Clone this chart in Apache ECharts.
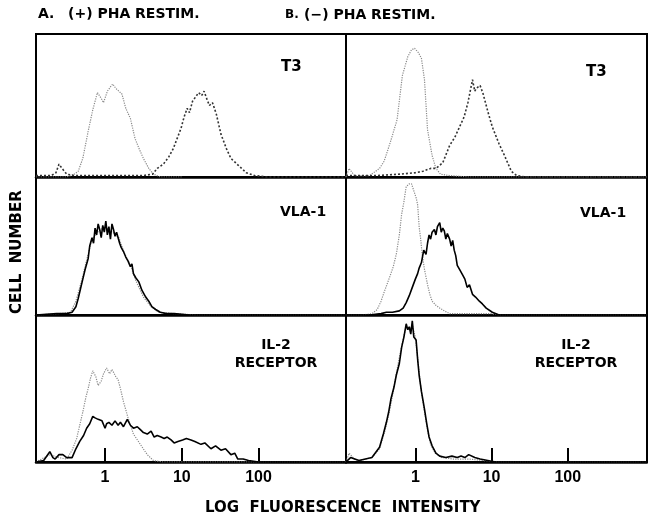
<!DOCTYPE html>
<html><head><meta charset="utf-8">
<script src="https://cdn.jsdelivr.net/npm/echarts@6/dist/echarts.min.js"></script>
<style>html,body{margin:0;padding:0;background:#fff}#c{width:648px;height:527px}</style>
</head><body><div id="c"></div>
<script>
// x values are log10(fluorescence intensity); y values are relative cell number (% of panel height)
const tickValues = [0, 1, 2];
const tickLabels = ['1', '10', '100'];
const panelLabels = ['T3', 'VLA-1', 'IL-2\nRECEPTOR'];
const columnTitles = ['(+) PHA RESTIM.', '(\u2212) PHA RESTIM.'];

// A. (+) PHA, T3
const aT3CtrlX = [-0.9,-0.5,-0.4,-0.35,-0.29,-0.22,-0.16,-0.1,-0.05,-0.02,0.03,0.07,0.1,0.14,0.18,0.22,0.27,0.33,0.39,0.45,0.5,0.57,0.63,0.72,0.85,1.0];
const aT3CtrlY = [0,0,2,4,13,32,47,59,55,52,60,63,65,62,60,58,48,41,27,19,13,6,2,0,0,0];
const aT3PosX = [-0.9,-0.7,-0.64,-0.6,-0.56,-0.5,-0.4,0.0,0.5,0.62,0.68,0.76,0.83,0.89,0.94,0.99,1.03,1.07,1.1,1.14,1.18,1.22,1.26,1.29,1.33,1.36,1.4,1.45,1.51,1.58,1.64,1.7,1.74,1.84,1.95,2.1,3.14];
const aT3PosY = [1,1,3,9,6,2,1,1,1,2,6,9,14,20,27,34,42,48,45,53,56,59,57,60,54,50,52,44,30,20,13,10,8,3,1,0,0];
// B. (-) PHA, T3
const bT3CtrlX = [-0.91,-0.87,-0.8,-0.6,-0.47,-0.41,-0.33,-0.24,-0.17,-0.1,-0.05,-0.01,0.04,0.08,0.12,0.16,0.22,0.27,0.33,0.45,0.7,3.04];
const bT3CtrlY = [0,6,1,1,6,11,24,40,71,84,89,90,87,83,68,33,15,6,2,1,0,0];
const bT3PosX = [-0.91,-0.5,-0.2,0.0,0.1,0.2,0.27,0.36,0.45,0.52,0.58,0.64,0.69,0.72,0.75,0.78,0.8,0.85,0.89,0.95,1.01,1.1,1.17,1.26,1.33,1.45,3.04];
const bT3PosY = [1,1,2,3,4,6,6,10,22,28,35,42,52,60,68,60,62,64,58,46,35,23,15,4,1,0,0];
// A. VLA-1
const aVlaCtrlX = [-0.9,-0.6,-0.45,-0.38,-0.3,-0.23,-0.17,-0.1,0.0,0.1,0.18,0.25,0.33,0.4,0.5,0.6,0.7,0.9,1.2,3.14];
const aVlaCtrlY = [0,1,2,10,26,42,55,60,64,60,56,45,36,25,13,6,2,1,0,0];
const aVlaPosX = [-0.9,-0.63,-0.5,-0.43,-0.38,-0.35,-0.32,-0.29,-0.26,-0.22,-0.2,-0.17,-0.15,-0.13,-0.11,-0.09,-0.07,-0.05,-0.03,-0.01,0.01,0.03,0.05,0.07,0.09,0.11,0.13,0.15,0.17,0.19,0.21,0.24,0.27,0.3,0.33,0.35,0.37,0.4,0.44,0.48,0.53,0.57,0.61,0.66,0.72,0.8,0.9,1.1,1.3,3.14];
const aVlaPosY = [0,1,1,2,6,12,19,26,33,41,50,56,52,63,58,66,62,56,65,60,68,58,64,55,66,62,57,60,61,52,49,46,42,39,35,37,30,27,24,18,13,10,6,4,2,1,1,0,0,0];
// B. VLA-1
const bVlaCtrlX = [-0.91,-0.7,-0.57,-0.5,-0.45,-0.4,-0.34,-0.29,-0.25,-0.21,-0.18,-0.15,-0.12,-0.08,-0.05,-0.02,0.01,0.03,0.05,0.07,0.09,0.12,0.16,0.19,0.22,0.27,0.32,0.38,0.45,0.6,0.8,1.0,1.1,3.04];
const bVlaCtrlY = [0,0,1,4,10,18,27,35,44,58,73,82,93,95,95,90,85,80,64,55,44,33,22,15,10,7,5,3,1,1,1,1,0,0];
const bVlaPosX = [-0.91,-0.6,-0.45,-0.38,-0.3,-0.21,-0.16,-0.12,-0.08,-0.04,0.0,0.03,0.05,0.08,0.11,0.14,0.16,0.18,0.2,0.22,0.25,0.27,0.29,0.32,0.34,0.36,0.38,0.4,0.42,0.45,0.47,0.49,0.51,0.53,0.55,0.58,0.62,0.65,0.68,0.71,0.75,0.79,0.84,0.88,0.93,1.01,1.1,1.3,3.04];
const bVlaPosY = [0,0,1,2,2,3,5,9,14,20,26,30,34,38,47,44,52,58,55,60,62,58,64,67,60,63,61,55,59,55,50,54,47,43,36,33,29,26,20,22,15,13,10,8,5,2,0,0,0];
// A. IL-2 receptor
const aIl2CtrlX = [-0.9,-0.72,-0.6,-0.5,-0.43,-0.37,-0.33,-0.29,-0.25,-0.22,-0.19,-0.16,-0.12,-0.09,-0.05,-0.02,0.02,0.06,0.09,0.11,0.14,0.17,0.2,0.24,0.3,0.37,0.46,0.55,0.63,0.75,3.14];
const aIl2CtrlY = [0,5,3,2,8,16,25,34,44,50,57,62,58,52,55,60,64,60,63,61,58,56,50,41,30,19,12,5,1,0,0];
const aIl2PosX = [-0.9,-0.8,-0.72,-0.68,-0.65,-0.6,-0.55,-0.5,-0.43,-0.38,-0.33,-0.28,-0.24,-0.2,-0.16,-0.13,-0.09,-0.04,0.0,0.02,0.05,0.09,0.13,0.17,0.2,0.24,0.29,0.33,0.37,0.42,0.46,0.5,0.55,0.6,0.64,0.68,0.73,0.77,0.81,0.86,0.9,0.95,1.01,1.06,1.12,1.17,1.25,1.3,1.38,1.44,1.51,1.57,1.64,1.69,1.73,1.8,1.87,2.0,2.2,3.14];
const aIl2PosY = [0,1,7,3,2,5,5,3,3,9,14,18,23,26,31,30,29,28,23,26,27,25,28,25,27,24,29,25,23,24,22,20,19,21,17,18,17,16,17,15,13,14,15,16,15,14,12,13,9,11,8,9,5,6,2,2,1,0,0,0];
// B. IL-2 receptor
const bIl2CtrlX = [-0.91,-0.87,-0.8,-0.74,-0.57,-0.47,-0.4,-0.35,-0.3,-0.25,-0.2,-0.15,-0.12,-0.08,-0.04,0.0,0.04,0.08,0.12,0.16,0.2,0.26,0.35,0.5,0.7,0.9,1.1,3.04];
const bIl2CtrlY = [0,6,2,1,3,9,21,32,45,60,74,86,92,90,93,85,66,47,34,22,12,6,3,2,2,1,0,0];
const bIl2PosX = [-0.91,-0.85,-0.74,-0.57,-0.47,-0.42,-0.38,-0.35,-0.32,-0.28,-0.25,-0.21,-0.18,-0.15,-0.12,-0.1,-0.08,-0.06,-0.04,-0.02,0.01,0.03,0.05,0.08,0.12,0.15,0.18,0.22,0.27,0.32,0.4,0.48,0.55,0.6,0.65,0.7,0.78,0.85,0.95,1.05,3.04];
const bIl2PosY = [0,3,1,3,10,19,27,34,43,51,59,67,78,85,94,90,92,87,96,85,83,70,59,48,36,26,17,11,6,4,3,4,3,4,3,5,3,2,1,0,0];

const zip = (xs, ys) => xs.map((x, i) => [x, ys[i]]);
const panels = [
  {ctrl: zip(aT3CtrlX, aT3CtrlY), pos: zip(aT3PosX, aT3PosY), posDotted: true},
  {ctrl: zip(bT3CtrlX, bT3CtrlY), pos: zip(bT3PosX, bT3PosY), posDotted: true},
  {ctrl: zip(aVlaCtrlX, aVlaCtrlY), pos: zip(aVlaPosX, aVlaPosY)},
  {ctrl: zip(bVlaCtrlX, bVlaCtrlY), pos: zip(bVlaPosX, bVlaPosY)},
  {ctrl: zip(aIl2CtrlX, aIl2CtrlY), pos: zip(aIl2PosX, aIl2PosY)},
  {ctrl: zip(bIl2CtrlX, bIl2CtrlY), pos: zip(bIl2PosX, bIl2PosY)}
];

const rows = [[34, 143], [177, 138], [315, 147]];
const cols = [{left: 36, width: 310, min: -0.9, max: 3.14}, {left: 346, width: 301, min: -0.91, max: 3.04}];
const FONT = '"Liberation Sans", Arial, sans-serif';
const HEAVY = '"DejaVu Sans", "Liberation Sans", sans-serif';

const grid = [], xAxis = [], yAxis = [], series = [];
panels.forEach((p, i) => {
  const r = Math.floor(i / 2), c = i % 2;
  const bottom = r === 2;
  grid.push({left: cols[c].left, width: cols[c].width, top: rows[r][0], height: rows[r][1],
    show: true, borderColor: '#000', borderWidth: 2, backgroundColor: 'transparent'});
  xAxis.push({type: 'value', gridIndex: i, min: cols[c].min, max: cols[c].max,
    splitLine: {show: false},
    axisLine: {show: true, onZero: false, lineStyle: {color: '#000', width: 2.5}},
    axisTick: {show: bottom, inside: true, length: 14, customValues: tickValues, lineStyle: {color: '#000', width: 2}},
    axisLabel: {show: bottom, customValues: tickValues, margin: 8,
      formatter: v => tickLabels[tickValues.indexOf(Math.round(v))] || '',
      color: '#000', fontFamily: FONT, fontWeight: 'bold', fontSize: 16}});
  yAxis.push({type: 'value', gridIndex: i, min: 0, max: 100, show: false});
  series.push({type: 'line', xAxisIndex: i, yAxisIndex: i, data: p.ctrl, showSymbol: false, silent: true,
    lineStyle: {color: '#8a8a8a', width: 1.2, type: 'dotted'}});
  series.push({type: 'line', xAxisIndex: i, yAxisIndex: i, data: p.pos, showSymbol: false, silent: true,
    lineStyle: p.posDotted ? {color: '#333', width: 1.6, type: [2, 2]} : {color: '#000', width: 1.6}});
});

const txt = (x, y, text, size, extra) => ({type: 'text', x: x, y: y, silent: true,
  style: Object.assign({text, fill: '#000', font: 'bold ' + size + 'px ' + HEAVY, verticalAlign: 'middle'}, extra || {})});
const graphic = [
  txt(38, 14, 'A.', 14), txt(68, 14, columnTitles[0], 14),
  txt(285, 15, 'B.', 12), txt(304, 15, columnTitles[1], 14),
  txt(281, 67, panelLabels[0], 15), txt(586, 72, panelLabels[0], 15),
  txt(280, 212, panelLabels[1], 14), txt(580, 213, panelLabels[1], 14),
  txt(276, 354, panelLabels[2], 14, {align: 'center', lineHeight: 18}),
  txt(576, 354, panelLabels[2], 14, {align: 'center', lineHeight: 18}),
  {type: 'text', x: 17, y: 314, rotation: Math.PI / 2, silent: true,
    style: {text: 'CELL  NUMBER', fill: '#000', font: 'bold 15px ' + HEAVY, verticalAlign: 'middle'}},
  txt(205, 508, 'LOG  FLUORESCENCE  INTENSITY', 15)
];

const chart = echarts.init(document.getElementById('c'), null, {renderer: 'canvas'});
chart.setOption({animation: false, backgroundColor: '#fff', grid, xAxis, yAxis, series, graphic});
</script></body></html>
